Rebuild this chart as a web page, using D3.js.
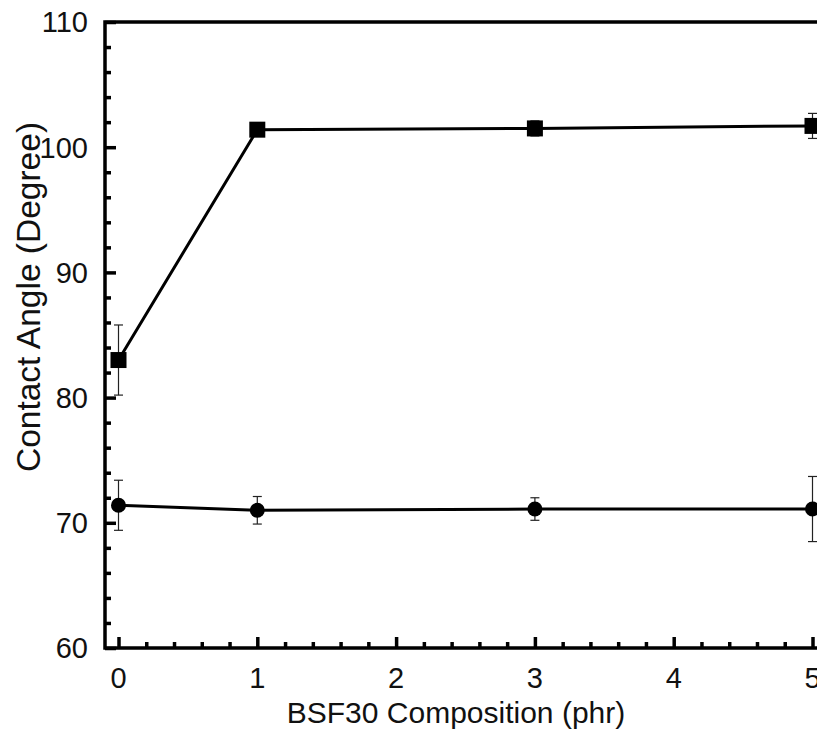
<!DOCTYPE html>
<html>
<head>
<meta charset="utf-8">
<script src="https://cdn.jsdelivr.net/npm/d3@7"></script>
<style>
  body { margin: 0; background: #fff; }
  svg text { font-family: "Liberation Sans", Arial, sans-serif; fill: #111; }
</style>
</head>
<body>
<div class="chart"></div>
<script>
// data
const compositions = [0, 1, 3, 5];            // BSF30 (phr)
const angleSquare = [83.0, 101.4, 101.5, 101.7];
const errSquare   = [2.8, 0.3, 0.6, 1.0];
const angleCircle = [71.4, 71.0, 71.1, 71.1];
const errCircle   = [2.0, 1.1, 0.9, 2.6];
const xTicks = [0, 1, 2, 3, 4, 5];
const yTicks = [60, 70, 80, 90, 100, 110];

const W = 817, H = 734;
const padL = 105, padT = 22, padB = 648;

const svg = d3.select(".chart").append("svg")
    .attr("width", W)
    .attr("height", H);

const x = d3.scaleLinear().domain([0, 5]).range([118.5, 812.5]);
const y = d3.scaleLinear().domain([60, 110]).range([padB, padT]);

// y ticks (inward, pointing right)
const yMinor = d3.range(60, 110.01, 2).filter(v => v % 10 !== 0);
svg.append("g")
    .attr("transform", `translate(${padL},0)`)
    .call(d3.axisRight(y).tickValues(yMinor).tickSize(6).tickFormat(""))
    .call(g => g.select(".domain").remove())
    .call(g => g.selectAll("line").attr("stroke", "#000").attr("stroke-width", 3.5));
svg.append("g")
    .attr("transform", `translate(${padL},0)`)
    .call(d3.axisRight(y).tickValues(yTicks).tickSize(11).tickFormat(""))
    .call(g => g.select(".domain").remove())
    .call(g => g.selectAll("line").attr("stroke", "#000").attr("stroke-width", 3.5));
svg.append("g")
    .selectAll("text")
    .data(yTicks)
    .join("text")
        .attr("x", 88)
        .attr("y", d => y(d))
        .attr("dy", "0.36em")
        .attr("text-anchor", "end")
        .attr("font-size", 29)
        .text(d => d);

// x ticks (inward, pointing up)
const xMinor = d3.range(0, 5.01, 0.2).map(v => +v.toFixed(1)).filter(v => v % 1 !== 0);
svg.append("g")
    .attr("transform", `translate(0,${padB})`)
    .call(d3.axisTop(x).tickValues(xMinor).tickSize(6).tickFormat(""))
    .call(g => g.select(".domain").remove())
    .call(g => g.selectAll("line").attr("stroke", "#000").attr("stroke-width", 3.5));
svg.append("g")
    .attr("transform", `translate(0,${padB})`)
    .call(d3.axisTop(x).tickValues(xTicks).tickSize(11).tickFormat(""))
    .call(g => g.select(".domain").remove())
    .call(g => g.selectAll("line").attr("stroke", "#000").attr("stroke-width", 3.5));
svg.append("g")
    .selectAll("text")
    .data(xTicks)
    .join("text")
        .attr("x", d => x(d))
        .attr("y", 678)
        .attr("dy", "0.36em")
        .attr("text-anchor", "middle")
        .attr("font-size", 29)
        .text(d => d);

// frame: left, bottom, top (right side runs off the page)
svg.append("path")
    .attr("d", `M${W + 5},${padT} H${padL} V${padB} H${W + 5}`)
    .attr("fill", "none")
    .attr("stroke", "#000")
    .attr("stroke-width", 3.5);

// axis titles
svg.append("text")
    .attr("x", 456)
    .attr("y", 712)
    .attr("dy", "0.36em")
    .attr("text-anchor", "middle")
    .attr("font-size", 30)
    .text("BSF30 Composition (phr)");
svg.append("text")
    .attr("transform", `translate(28,297) rotate(-90)`)
    .attr("dy", "0.36em")
    .attr("text-anchor", "middle")
    .attr("font-size", 33.5)
    .text("Contact Angle (Degree)");

const line = d3.line().x(d => x(d[0])).y(d => y(d[1]));

const drawSeries = (vals, errs, shape) => {
    const pts = compositions.map((c, i) => [c, vals[i], errs[i]]);
    const g = svg.append("g");
    g.append("path")
        .datum(pts)
        .attr("d", line)
        .attr("fill", "none")
        .attr("stroke", "#000")
        .attr("stroke-width", 3);
    // error bars
    const eb = g.selectAll(".err").data(pts).join("g").attr("class", "err")
        .attr("stroke", "#222").attr("stroke-width", 1.2);
    eb.append("line")
        .attr("x1", d => x(d[0])).attr("x2", d => x(d[0]))
        .attr("y1", d => y(d[1] - d[2])).attr("y2", d => y(d[1] + d[2]));
    eb.append("line")
        .attr("x1", d => x(d[0]) - 4.5).attr("x2", d => x(d[0]) + 4.5)
        .attr("y1", d => y(d[1] + d[2])).attr("y2", d => y(d[1] + d[2]));
    eb.append("line")
        .attr("x1", d => x(d[0]) - 4.5).attr("x2", d => x(d[0]) + 4.5)
        .attr("y1", d => y(d[1] - d[2])).attr("y2", d => y(d[1] - d[2]));
    // markers
    if (shape === "square") {
        g.selectAll("rect").data(pts).join("rect")
            .attr("x", d => x(d[0]) - 8)
            .attr("y", d => y(d[1]) - 8)
            .attr("width", 16)
            .attr("height", 16)
            .attr("fill", "#000");
    } else {
        g.selectAll("circle").data(pts).join("circle")
            .attr("cx", d => x(d[0]))
            .attr("cy", d => y(d[1]))
            .attr("r", 7.5)
            .attr("fill", "#000");
    }
};

drawSeries(angleSquare, errSquare, "square");
drawSeries(angleCircle, errCircle, "circle");
</script>
</body>
</html>
